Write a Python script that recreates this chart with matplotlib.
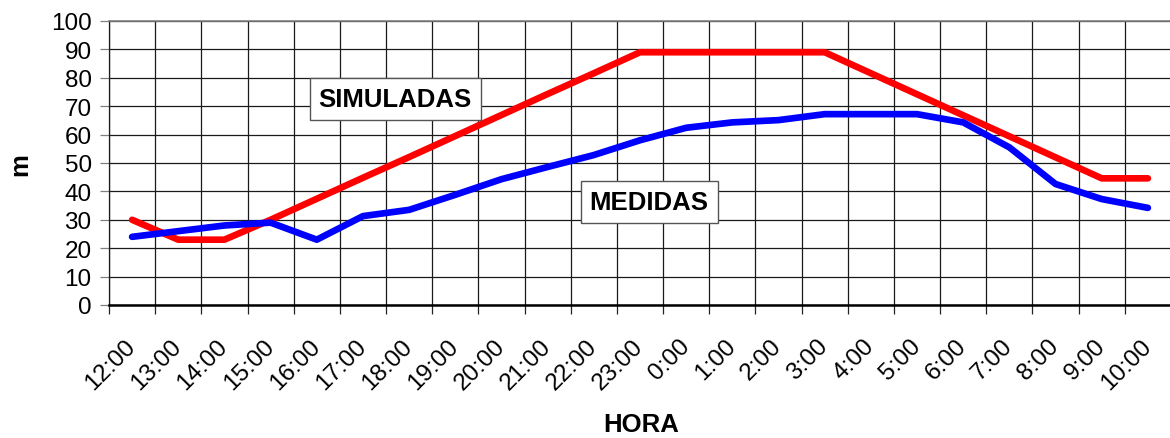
import numpy as np
import matplotlib
matplotlib.use("Agg")
import matplotlib.pyplot as plt
import matplotlib.transforms as mtransforms

plt.rcParams["font.family"] = ["Liberation Sans", "DejaVu Sans"]

# data
horas = ["12:00", "13:00", "14:00", "15:00", "16:00", "17:00", "18:00", "19:00",
         "20:00", "21:00", "22:00", "23:00", "0:00", "1:00", "2:00", "3:00",
         "4:00", "5:00", "6:00", "7:00", "8:00", "9:00", "10:00"]
simuladas = [30, 23, 23, 30, 37.4, 44.8, 52.1, 59.5, 66.9, 74.3, 81.6, 89,
             89, 89, 89, 89, 81.6, 74.2, 66.8, 59.4, 52, 44.6, 44.6]
medidas = [24, 26, 28, 29, 23, 31.3, 33.5, 38.8, 44.3, 48.6, 52.8, 58,
           62.4, 64.3, 65.1, 67.2, 67.2, 67.2, 64.3, 55.5, 42.6, 37.3, 34.2]

x = np.arange(len(horas))

fig = plt.figure(figsize=(11.7, 4.39), dpi=100)
ax = fig.add_axes([109 / 1170, 133 / 439, 1062 / 1170, 284 / 439])

ax.plot(x, simuladas, color="#ff0000", lw=4.8, solid_capstyle="round",
        solid_joinstyle="round", zorder=3)
ax.plot(x, medidas, color="#0000ff", lw=4.8, solid_capstyle="round",
        solid_joinstyle="round", zorder=4)

ax.set_xlim(-0.5, len(horas) - 0.5)
ax.set_ylim(0, 100)
ax.set_yticks(np.arange(0, 101, 10))
ax.set_xticks(x)
ax.set_xticks(np.arange(-0.5, len(horas), 1), minor=True)
ax.set_xticklabels(horas, rotation=45, ha="right", va="center",
                   rotation_mode="anchor", fontsize=17.5)

# nudge the rotated labels a little to the left, like the original
shift = mtransforms.ScaledTranslation(-4 / 100, 0, fig.dpi_scale_trans)
for lbl in ax.get_xticklabels():
    lbl.set_transform(lbl.get_transform() + shift)

ax.grid(True, which="minor", axis="x", color="#1a1a1a", lw=0.9, zorder=1)
ax.grid(True, which="major", axis="y", color="#1a1a1a", lw=0.9, zorder=1)

ax.tick_params(axis="x", which="major", length=0, pad=27)
ax.tick_params(axis="x", which="minor", length=6.5, width=0.9, color="#222222")
ax.tick_params(axis="y", length=6.5, width=0.9, color="#808080", pad=6,
               labelsize=17.5)

ax.spines["right"].set_visible(False)
ax.spines["top"].set_color("#808080")
ax.spines["top"].set_linewidth(1.2)
ax.spines["bottom"].set_linewidth(1.8)
ax.spines["left"].set_linewidth(0.9)
ax.spines["left"].set_color("#1a1a1a")

ax.text(5.7, 72.5, "SIMULADAS", fontsize=18.5, fontweight="bold", ha="center",
        va="center", zorder=5,
        bbox=dict(boxstyle="square,pad=0.35", fc="white", ec="#555555", lw=1))
ax.text(11.2, 36.3, "MEDIDAS", fontsize=18.5, fontweight="bold", ha="center",
        va="center", zorder=5,
        bbox=dict(boxstyle="square,pad=0.35", fc="white", ec="#555555", lw=1))

fig.text(641 / 1170, 1 - 425 / 439, "HORA", fontsize=18.5, fontweight="bold",
         ha="center", va="center")
fig.text(20 / 1170, 1 - 165 / 439, "m", fontsize=18.5, fontweight="bold",
         ha="center", va="center", rotation=90)

fig.savefig("out.png", dpi=100)
